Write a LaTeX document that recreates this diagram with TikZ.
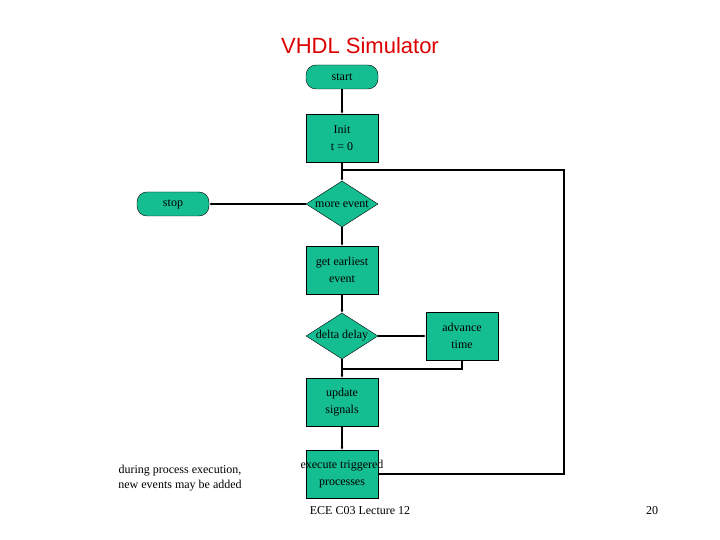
\documentclass[tikz,border=0pt]{standalone}
\usepackage{fontspec}
\setmainfont{Liberation Serif}
\newfontfamily\sansf{Liberation Sans}
\usetikzlibrary{shapes.geometric,arrows.meta}
\definecolor{boxg}{RGB}{20,190,145}
\definecolor{titr}{RGB}{220,0,0}
\begin{document}
\begin{tikzpicture}[x=1pt,y=-1pt,
  box/.style={draw=black,fill=boxg,minimum width=72pt,minimum height=48pt,inner sep=0pt,align=center,font=\fontsize{12}{17}\selectfont},
  term/.style={draw=black,fill=boxg,rounded corners=10pt,minimum width=72pt,minimum height=24pt,inner sep=0pt,font=\fontsize{12}{14}\selectfont},
  dec/.style={draw=black,fill=boxg,diamond,aspect=1.56,minimum width=72pt,minimum height=46pt,inner sep=0pt,font=\fontsize{12}{14}\selectfont},
  ln/.style={line width=1.2pt},
  ar/.style={ln,-{Latex[length=3pt,width=3pt]}},
  txt/.style={font=\fontsize{12}{15}\selectfont,align=center}]
\useasboundingbox (0,0) rectangle (720,540);
\node[font=\sansf\fontsize{22}{26}\selectfont,text=titr] (title) at (360,46) {VHDL Simulator};
\node[term] (start) at (342,77) {start};
\node[box] (init) at (342,138) {Init\\t = 0};
\node[dec] (more) at (342,204) {\makebox[0pt]{more event}};
\node[term] (stop) at (173,204) {stop};
\node[box] (get) at (342,270) {get earliest\\event};
\node[dec] (delta) at (342,336) {\makebox[0pt]{delta delay}};
\node[box] (adv) at (462,336) {advance\\time};
\node[box] (upd) at (342,402) {update\\signals};
\node[box] (exe) at (342,474) {\makebox[0pt]{execute triggered}\\processes};
\node[txt] (note) at (180,478) {during process execution,\\new events may be added};
\node[txt] (foot) at (360,511) {ECE C03 Lecture 12};
\node[txt] (pg) at (652,511) {20};
\coordinate (j1) at (342,170);
\coordinate (j2) at (342,369);
\draw[ar] (start) -- (init);
\draw[ar] (init) -- (more);
\draw[ln] (exe.east) -- (564,474) -- (564,170) -- (j1);
\draw[ar] (more) -- (stop);
\draw[ar] (more) -- (get);
\draw[ar] (get) -- (delta);
\draw[ar] (delta) -- (adv);
\draw[ln] (adv.south) -- (462,369) -- (j2);
\draw[ar] (delta) -- (upd);
\draw[ar] (upd) -- (exe);
\end{tikzpicture}
\end{document}
